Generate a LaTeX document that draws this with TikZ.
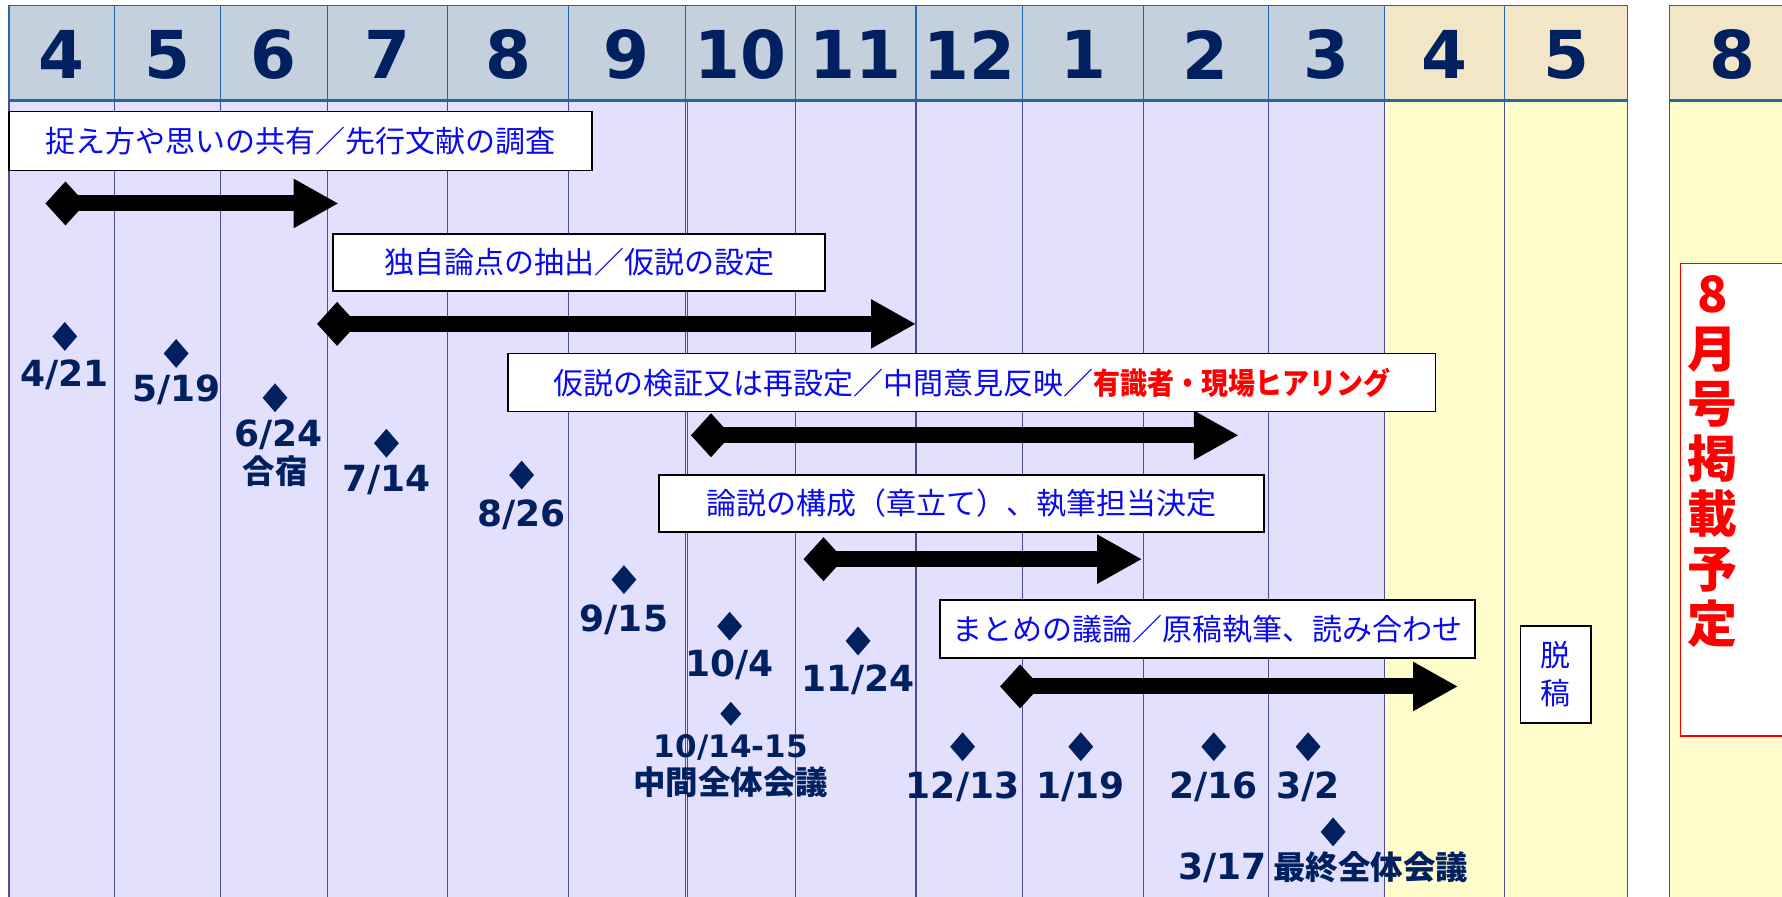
\documentclass[tikz,border=0pt]{standalone}
\usepackage{fontspec}
\usepackage{graphicx}
\usetikzlibrary{arrows.meta,shapes.geometric}
\setmainfont{DejaVu Sans}
\newfontfamily\jp{Noto Sans CJK JP}
\definecolor{navy}{HTML}{002060}
\definecolor{hdrgrey}{HTML}{C4D0DC}
\definecolor{hdrtan}{HTML}{F2E6C6}
\definecolor{lav}{HTML}{E3E0FD}
\definecolor{lyel}{HTML}{FFFDCC}
\definecolor{hline}{HTML}{2466A6}
\definecolor{cline}{HTML}{4D4A98}
\definecolor{txtblue}{HTML}{0A0AF0}
\definecolor{myred}{HTML}{FF0000}
\def\S{1.1365pt}
\begin{document}
\begin{tikzpicture}[x=1.1365pt,y=-1.1365pt,
  hdr/.style={font=\fontsize{66}{66}\selectfont\bfseries, text=navy, inner sep=0},
  box/.style={draw=black, line width=1.6pt, fill=white, text=txtblue, font=\jp\fontsize{30}{30}\selectfont, inner sep=0},
  ms/.style={diamond, fill=navy, inner sep=0, minimum width=25pt, minimum height=29pt},
  mlab/.style={text=navy, font=\fontsize{36}{36}\selectfont\bfseries, inner sep=0},
  jlab/.style={text=navy, font=\jp\bfseries\fontsize{32.5}{32.5}\selectfont, inner sep=0},
  gantt/.style={line width=16pt, {Diamond[length=40pt,width=44pt]}-{Triangle[length=45pt,width=46pt]}},
]
\useasboundingbox (0,0) rectangle (1568,789);
\clip (0,0) rectangle (1568,789);
\fill[white] (0,0) rectangle (1568,789);
% columns
\foreach \a/\b/\t/\n in {8/101/4/1,101/194/5/2,194/288/6/3,288/394/7/4,394/500/8/5,500/603/9/6,603/700/10/7,700/806/11/8,806/900/12/9,900/1006/1/10,1006/1116/2/11,1116/1218/3/12}{
  \fill[hdrgrey] (\a,5) rectangle (\b,88);
  \fill[lav] (\a,88) rectangle (\b,789);
  \draw[hline, line width=1.2pt] (\a,5) rectangle (\b,88);
  \node[hdr] (h\n) at ({(\a+\b)/2},48) {\t};
}
\foreach \a/\b in {1218/1324,1324/1432,1469/1580}{
  \fill[hdrtan] (\a,5) rectangle (\b,88);
  \fill[lyel] (\a,88) rectangle (\b,789);
  \draw[hline, line width=1.2pt] (\a,5) rectangle (\b,88);
}
\node[hdr] (h13) at (1271,48) {4};
\node[hdr] (h14) at (1378,48) {5};
\node[hdr] (h15) at (1524,48) {8};
\foreach \x in {8,101,194,288,394,500,603,700,806,900,1006,1116,1218,1324,1432,1469}{
  \draw[cline, line width=1.3pt] (\x,88) -- (\x,789);
}
\draw[cline, line width=1pt] (605,88) -- (605,789);
\draw[hline, line width=3pt] (8,88) -- (1432,88);
\draw[hline, line width=3pt] (1469,88) -- (1580,88);

% task boxes
\node[box, minimum width=513*\S, minimum height=52*\S] (b1) at (264.5,124) {捉え方や思いの共有／先行文献の調査};
\node[box, minimum width=433*\S, minimum height=50*\S] (b2) at (509.5,231) {独自論点の抽出／仮説の設定};
\node[box, minimum width=816*\S, minimum height=51*\S] (b3) at (855,336.5) {仮説の検証又は再設定／中間意見反映／{\bfseries\color{myred}\scalebox{0.9}[1]{有識者・現場ヒアリング}}};
\node[box, minimum width=532*\S, minimum height=50*\S] (b4) at (846,443) {論説の構成（章立て）、執筆担当決定};
\node[box, minimum width=471*\S, minimum height=51*\S] (b5) at (1062.5,553.5) {まとめの議論／原稿執筆、読み合わせ};
\node[box, minimum width=62*\S, minimum height=85*\S, align=center, font=\jp\fontsize{30}{38}\selectfont] (b6) at (1369,593.5) {脱\\稿};
\node[draw=myred, line width=1.6pt, fill=white, minimum width=120*\S, minimum height=416*\S, anchor=north west, inner sep=0] (red) at (1478,231) {};
\node[text=myred, font=\jp\bfseries\fontsize{50}{55}\selectfont, align=center, inner sep=0] (redtxt) at (1507,406) {8\\月\\号\\掲\\載\\予\\定};

% arrows
\coordinate (a1s) at (40,179);  \coordinate (a1e) at (298,179);
\coordinate (a2s) at (279,285); \coordinate (a2e) at (806,285);
\coordinate (a3s) at (608,383); \coordinate (a3e) at (1090,383);
\coordinate (a4s) at (707,492); \coordinate (a4e) at (1005,492);
\coordinate (a5s) at (880,604); \coordinate (a5e) at (1283,604);
\draw[gantt] (a1s) -- (a1e);
\draw[gantt] (a2s) -- (a2e);
\draw[gantt] (a3s) -- (a3e);
\draw[gantt] (a4s) -- (a4e);
\draw[gantt] (a5s) -- (a5e);

% milestones
\node[ms] (m1) at (57,296) {};   \node[mlab] (l1) at (57,330) {4/21};
\node[ms] (m2) at (155,311) {};  \node[mlab] (l2) at (155,343) {5/19};
\node[ms] (m3) at (242,350) {};  \node[mlab] (l3) at (245,383) {6/24};
\node[jlab] (l3b) at (242,415) {合宿};
\node[ms] (m4) at (340,390) {};  \node[mlab] (l4) at (340,422) {7/14};
\node[ms] (m5) at (459,418) {};  \node[mlab] (l5) at (459,453) {8/26};
\node[ms] (m6) at (549,510) {};  \node[mlab] (l6) at (549,545) {9/15};
\node[ms] (m7) at (642,551) {};  \node[mlab] (l7) at (642,585) {10/4};
\node[ms] (m8) at (755,564) {};  \node[mlab] (l8) at (755,598) {11/24};
\node[ms, minimum width=21pt, minimum height=24pt] (m9) at (643,628) {};
\node[mlab, font=\fontsize{31}{31}\selectfont\bfseries] (l9) at (643,658) {10/14-15};
\node[jlab] (l9b) at (643,688) {中間全体会議};
\node[ms] (m10) at (847,657) {}; \node[mlab] (l10) at (847,692) {12/13};
\node[ms] (m11) at (951,657) {}; \node[mlab] (l11) at (951,692) {1/19};
\node[ms] (m12) at (1068,657) {}; \node[mlab] (l12) at (1068,692) {2/16};
\node[ms] (m13) at (1151,657) {}; \node[mlab] (l13) at (1151,692) {3/2};
\node[ms] (m14) at (1173,732) {};
\node[mlab, anchor=west] (l14) at (1037,763) {3/17\hspace{6pt}{\jp\fontsize{32.5}{32.5}\selectfont 最終全体会議}};
\end{tikzpicture}
\end{document}
